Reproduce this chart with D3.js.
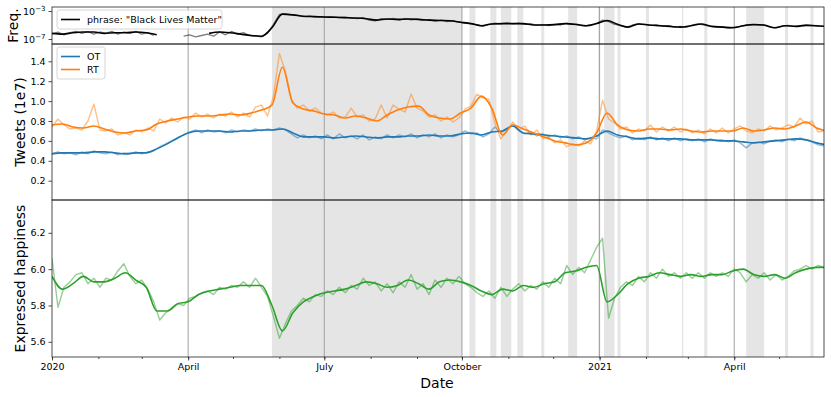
<!DOCTYPE html>
<html><head><meta charset="utf-8">
<script src="https://cdn.jsdelivr.net/npm/d3@7"></script>
<style>body{margin:0;background:#fff}svg{display:block;font-family:"DejaVu Sans",sans-serif}</style>
</head><body><svg id="c" width="831" height="397"></svg>
<script>
// ---------- DATA ----------
const startDate = "2020-01-01";
const endDate = "2021-05-31";
const smoothStepDays = 7;
const rawStepDays = 4;

// weekly smoothed series
const freqSmoothLog10 = [-6.2,-6.3,-6.1,-6.0,-6.0,-6.2,-6.1,-6.1,-6.0,-6.1,-6.4,null,null,null,null,-6.2,-6.0,-6.1,-6.3,-6.5,-6.6,-5.4,-3.45,-3.55,-3.75,-3.8,-3.85,-3.9,-3.95,-4.0,-4.1,-4.3,-4.15,-4.2,-4.15,-4.2,-4.3,-4.35,-4.4,-4.6,-4.8,-5.1,-4.85,-4.8,-4.8,-4.8,-5.0,-5.0,-4.95,-4.8,-4.9,-5.1,-4.8,-4.35,-4.9,-5.3,-4.85,-5.0,-5.1,-5.2,-5.3,-5.1,-4.85,-5.2,-5.3,-5.4,-5.1,-4.95,-5.0,-5.4,-5.1,-5.2,-5.05,-5.1,-5.2];
const rtSmooth = [0.76,0.77,0.74,0.73,0.75,0.72,0.69,0.68,0.70,0.71,0.77,0.80,0.82,0.84,0.85,0.85,0.86,0.87,0.86,0.88,0.91,0.96,1.34,0.98,0.92,0.90,0.87,0.86,0.83,0.85,0.83,0.80,0.86,0.91,0.94,0.95,0.86,0.83,0.82,0.88,0.93,1.05,0.93,0.66,0.76,0.72,0.68,0.64,0.60,0.58,0.56,0.58,0.68,0.88,0.76,0.71,0.70,0.72,0.72,0.71,0.72,0.70,0.69,0.70,0.70,0.70,0.73,0.70,0.71,0.73,0.72,0.75,0.79,0.73,0.70];
const otSmooth = [0.47,0.48,0.48,0.48,0.49,0.49,0.48,0.47,0.48,0.48,0.52,0.57,0.63,0.68,0.70,0.70,0.70,0.69,0.70,0.70,0.71,0.71,0.72,0.68,0.64,0.64,0.64,0.63,0.64,0.65,0.64,0.63,0.64,0.64,0.65,0.65,0.66,0.65,0.65,0.67,0.68,0.66,0.69,0.70,0.75,0.68,0.67,0.66,0.65,0.64,0.63,0.62,0.65,0.70,0.66,0.64,0.62,0.63,0.62,0.62,0.62,0.61,0.61,0.61,0.60,0.60,0.59,0.58,0.59,0.60,0.61,0.62,0.61,0.58,0.56];
const happySmooth = [5.96,5.89,5.92,5.96,5.93,5.93,5.95,5.98,5.94,5.90,5.77,5.77,5.81,5.82,5.86,5.88,5.89,5.90,5.91,5.91,5.91,5.80,5.66,5.76,5.82,5.85,5.87,5.88,5.89,5.91,5.93,5.92,5.90,5.91,5.94,5.92,5.89,5.93,5.94,5.93,5.91,5.88,5.86,5.89,5.88,5.91,5.90,5.92,5.93,5.98,5.99,6.01,6.02,5.82,5.86,5.92,5.95,5.96,5.98,5.97,5.96,5.97,5.96,5.97,5.97,5.99,6.00,5.97,5.96,5.97,5.95,5.98,6.00,6.01,6.01];

// raw series (every 4 days)
const freqRawLog10 = [-6.3,-6.0,-6.4,-6.1,-5.9,-6.2,-5.95,-6.3,-6.0,-6.2,-5.9,-6.3,-6.0,-6.2,-5.9,-6.3,-6.1,-6.5,null,null,null,null,-6.6,-6.4,-6.7,-6.5,-6.3,-6.6,-6.0,-6.4,-5.9,-6.3,-6.1,-6.5,-6.6,-6.7,-6.2,-4.9,-3.5,-3.4,-3.55,-3.6,-3.8,-3.7,-3.85,-3.8,-3.9,-3.85,-3.95,-3.9,-4.0,-4.1,-3.95,-4.3,-4.4,-4.1,-4.2,-4.05,-4.3,-4.1,-4.25,-4.15,-4.35,-4.25,-4.45,-4.3,-4.5,-4.4,-4.55,-4.75,-4.8,-4.95,-5.2,-4.9,-4.75,-4.85,-4.7,-4.85,-4.75,-4.9,-4.8,-5.05,-4.95,-5.1,-4.9,-5.0,-4.75,-4.9,-5.0,-5.15,-5.0,-4.8,-4.3,-4.5,-4.9,-5.1,-5.3,-5.0,-4.8,-4.9,-5.05,-4.95,-5.15,-5.1,-5.3,-5.2,-5.35,-5.0,-4.85,-5.0,-5.2,-5.3,-5.25,-5.45,-5.3,-5.2,-5.05,null,-4.95,-5.05,-5.3,-5.4,-5.15,-5.05,-5.2,-5.1,-5.0,-5.05,-5.15,-5.2];
const rtRaw = [0.74,0.82,0.76,0.72,0.73,0.71,0.80,0.97,0.71,0.70,0.72,0.66,0.68,0.66,0.71,0.69,0.73,0.70,0.82,0.78,0.83,0.79,0.84,0.82,0.88,0.84,0.87,0.83,0.87,0.85,0.89,0.84,0.88,0.84,0.94,0.96,0.85,1.05,1.48,1.30,1.02,0.93,0.96,0.90,0.93,0.88,0.86,0.89,0.83,0.84,0.93,0.84,0.86,0.80,0.82,0.96,0.83,0.96,0.92,0.89,1.07,0.93,0.90,0.84,0.86,0.80,0.84,0.79,0.83,0.92,0.95,1.07,1.03,1.02,0.78,0.62,0.70,0.79,0.71,0.75,0.66,0.71,0.62,0.64,0.58,0.61,0.54,0.57,0.55,0.60,0.57,0.70,1.01,0.82,0.78,0.72,0.74,0.68,0.72,0.70,0.76,0.69,0.74,0.70,0.74,0.69,0.72,0.68,0.71,0.67,0.72,0.68,0.73,0.68,0.72,0.75,0.70,0.68,0.72,0.70,0.75,0.71,0.73,0.76,0.74,0.83,0.77,0.80,0.69,0.70];
const otRaw = [0.47,0.49,0.47,0.48,0.46,0.49,0.47,0.50,0.48,0.47,0.49,0.46,0.48,0.47,0.49,0.47,0.49,0.50,0.54,0.57,0.60,0.63,0.66,0.69,0.71,0.68,0.71,0.69,0.70,0.68,0.71,0.69,0.71,0.70,0.72,0.70,0.72,0.71,0.73,0.71,0.67,0.63,0.66,0.63,0.65,0.62,0.66,0.62,0.67,0.63,0.65,0.62,0.66,0.61,0.64,0.62,0.66,0.63,0.66,0.64,0.67,0.63,0.66,0.64,0.67,0.63,0.66,0.64,0.66,0.70,0.67,0.68,0.64,0.67,0.74,0.68,0.72,0.76,0.70,0.67,0.69,0.65,0.67,0.64,0.66,0.63,0.65,0.62,0.64,0.61,0.63,0.62,0.71,0.68,0.65,0.63,0.65,0.61,0.63,0.61,0.64,0.61,0.63,0.60,0.63,0.60,0.62,0.60,0.62,0.59,0.62,0.60,0.61,0.59,0.61,0.58,0.53,0.58,0.59,0.57,0.60,0.61,0.59,0.62,0.60,0.63,0.61,0.59,0.56,0.55];
const happyRaw = [6.06,5.79,5.90,5.93,5.97,5.98,5.92,5.95,5.90,5.95,5.94,5.99,6.03,5.96,5.92,5.94,5.89,5.82,5.72,5.76,5.78,5.81,5.80,5.84,5.85,5.87,5.88,5.86,5.90,5.89,5.91,5.90,5.93,5.90,5.95,5.90,5.85,5.74,5.62,5.70,5.77,5.80,5.84,5.82,5.86,5.85,5.88,5.86,5.90,5.87,5.91,5.89,5.95,5.91,5.93,5.88,5.92,5.87,5.93,5.90,5.97,5.89,5.92,5.86,5.94,5.90,5.95,5.92,5.96,5.92,5.90,5.87,5.85,5.88,5.84,5.90,5.85,5.89,5.92,5.88,5.91,5.89,5.93,5.90,5.95,5.92,6.02,5.97,6.01,5.98,6.05,6.12,6.17,5.73,5.84,5.90,5.93,5.91,5.96,5.93,5.98,5.95,6.00,5.96,5.98,5.95,5.98,5.95,5.98,5.95,5.98,5.96,5.98,5.96,6.00,5.98,5.93,5.97,5.95,5.98,5.94,5.97,5.94,5.96,5.99,6.00,6.02,6.00,6.02,6.01];

// shaded periods
const bandStarts = ["2020-05-27","2020-10-06","2020-10-20","2020-10-27","2020-11-07","2020-11-23","2020-12-11","2020-12-31","2021-01-04","2021-01-13","2021-02-01","2021-02-25","2021-03-12","2021-04-09","2021-05-05","2021-05-22"];
const bandEnds   = ["2020-10-01","2020-10-10","2020-10-24","2020-11-03","2020-11-11","2020-11-25","2020-12-17","2021-01-01","2021-01-11","2021-01-15","2021-02-03","2021-02-26","2021-03-14","2021-04-21","2021-05-07","2021-05-24"];

const xTickDates = ["2020-01-01","2020-04-01","2020-07-01","2020-10-01","2021-01-01","2021-04-01"];
const xTickLabels = ["2020","April","July","October","2021","April"];
const tweetTicks = [0.2,0.4,0.6,0.8,1.0,1.2,1.4];
const happyTicks = [5.6,5.8,6.0,6.2];
const freqTicks = [1e-7,1e-3];
const freqTickExp = ["−7","−3"];

// ---------- CHART ----------
const P = d3.utcParse("%Y-%m-%d");
const svg = d3.select("#c");
const L = 52, R = 824;
const panels = {top:[7,44], mid:[44,200], bot:[200,357]};
const x = d3.scaleUtc().domain([P(startDate), P(endDate)]).range([L, R]);
const yF = d3.scaleLog().domain([Math.pow(10,-7.714), Math.pow(10,-2.429)]).range([44, 7]);
const yT = d3.scaleLinear().domain([0.006, 1.574]).range([200, 44]);
const yH = d3.scaleLinear().domain([5.5165, 6.3805]).range([357, 200]);

const sDates = happySmooth.map((_,i)=>d3.utcDay.offset(P(startDate), i*smoothStepDays));
const rDates = happyRaw.map((_,i)=>d3.utcDay.offset(P(startDate), i*rawStepDays));

// clip
const defs = svg.append("defs");
Object.entries(panels).forEach(([k,[a,b]])=>{
  defs.append("clipPath").attr("id","clip-"+k).append("rect").attr("x",L).attr("y",a).attr("width",R-L).attr("height",b-a);
});

// bands
svg.append("g").selectAll("rect").data(bandStarts.map((s,i)=>[P(s),P(bandEnds[i])])).join("rect")
  .attr("x",d=>x(d[0])).attr("width",d=>Math.max(1.5,x(d[1])-x(d[0])))
  .attr("y",7).attr("height",350).attr("fill","#e5e5e5");

// grid lines at major ticks
svg.append("g").selectAll("line").data(xTickDates.slice(1).map(P)).join("line")
  .attr("x1",d=>x(d)).attr("x2",d=>x(d)).attr("y1",7).attr("y2",357)
  .attr("stroke","#a0a0a0").attr("stroke-width",1);

function drawLine(panel, dates, vals, yS, color, width, opacity, curve){
  const data = vals.map((v,i)=>({d:dates[i], v}));
  const gen = d3.line().defined(p=>p.v!=null).x(p=>x(p.d)).y(p=>yS(p.v));
  if (curve) gen.curve(curve);
  svg.append("path").datum(data).attr("clip-path","url(#clip-"+panel+")")
    .attr("d",gen).attr("fill","none").attr("stroke",color).attr("stroke-width",width)
    .attr("stroke-opacity",opacity).attr("stroke-linejoin","round");
}
const pow10 = a => a.map(v=> v==null?null:Math.pow(10,v));

drawLine("top", rDates, pow10(freqRawLog10), yF, "#000", 1.3, 0.5);
drawLine("top", sDates, pow10(freqSmoothLog10), yF, "#000", 1.6, 1, d3.curveMonotoneX);
drawLine("mid", rDates, otRaw, yT, "#1f77b4", 1.4, 0.5);
drawLine("mid", rDates, rtRaw, yT, "#ff7f0e", 1.4, 0.5);
drawLine("mid", sDates, otSmooth, yT, "#1f77b4", 1.6, 1, d3.curveMonotoneX);
drawLine("mid", sDates, rtSmooth, yT, "#ff7f0e", 1.6, 1, d3.curveMonotoneX);
drawLine("bot", rDates, happyRaw, yH, "#2ca02c", 1.4, 0.5);
drawLine("bot", sDates, happySmooth, yH, "#2ca02c", 1.6, 1, d3.curveMonotoneX);

// frames
Object.values(panels).forEach(([a,b])=>{
  svg.append("rect").attr("x",L).attr("y",a).attr("width",R-L).attr("height",b-a)
    .attr("fill","none").attr("stroke","#222").attr("stroke-width",0.8);
});

function styleAxis(g){
  g.select(".domain").remove();
  g.selectAll(".tick line").attr("stroke","#222").attr("stroke-width",0.8);
  g.selectAll(".tick text").attr("fill","#000").style("font-size","9.5px").style("font-family","DejaVu Sans");
}
// y axes
svg.append("g").attr("transform",`translate(${L},0)`)
  .call(d3.axisLeft(yT).tickValues(tweetTicks).tickFormat(d3.format(".1f")).tickSize(3.5).tickPadding(3)).call(styleAxis);
svg.append("g").attr("transform",`translate(${L},0)`)
  .call(d3.axisLeft(yH).tickValues(happyTicks).tickFormat(d3.format(".1f")).tickSize(3.5).tickPadding(3)).call(styleAxis);
const fAx = svg.append("g").attr("transform",`translate(${L},0)`)
  .call(d3.axisLeft(yF).tickValues(freqTicks).tickFormat(()=>"").tickSize(3.5).tickPadding(3)).call(styleAxis);
fAx.selectAll(".tick text").each(function(d,i){
  const t = d3.select(this).attr("dy","0.32em");
  t.append("tspan").text("10");
  t.append("tspan").attr("dy","-0.45em").style("font-size","7px").text(freqTickExp[i]);
});

// x axis
const xa = svg.append("g").attr("transform",`translate(0,357)`)
  .call(d3.axisBottom(x).tickValues(xTickDates.map(P)).tickFormat((d,i)=>xTickLabels[i]).tickSize(3.5).tickPadding(3)).call(styleAxis);
svg.append("g").attr("transform",`translate(0,357)`)
  .call(d3.axisBottom(x).ticks(d3.utcMonth.every(1)).tickFormat("").tickSize(2)).call(styleAxis);

// axis labels
const lab = (txt,xx,yy,rot)=>svg.append("text").attr("transform",`translate(${xx},${yy})`+(rot?" rotate(-90)":""))
  .attr("text-anchor","middle").style("font-size","14px").attr("fill","#000").text(txt);
lab("Freq.",18,25.5,true);
lab("Tweets (1e7)",25,122,true);
lab("Expressed happiness",25,278.5,true);
lab("Date",437,388,false);

// legends
function legend(x0,y0,w,items){
  const g = svg.append("g");
  g.append("rect").attr("x",x0).attr("y",y0).attr("width",w).attr("height",items.length*13+6)
    .attr("rx",2.5).attr("fill","#fff").attr("fill-opacity",0.8).attr("stroke","#ccc").attr("stroke-width",0.8);
  items.forEach((it,i)=>{
    const cy = y0+9.5+i*13;
    g.append("line").attr("x1",x0+4).attr("x2",x0+23).attr("y1",cy).attr("y2",cy).attr("stroke",it.c).attr("stroke-width",1.6);
    g.append("text").attr("x",x0+30).attr("y",cy).attr("dy","0.35em").style("font-size","9.5px").attr("fill","#000").text(it.t);
  });
}
legend(57,10,165,[{c:"#000",t:'phrase: "Black Lives Matter"'}]);
legend(57,47,48,[{c:"#1f77b4",t:"OT"},{c:"#ff7f0e",t:"RT"}]);
</script></body></html>
